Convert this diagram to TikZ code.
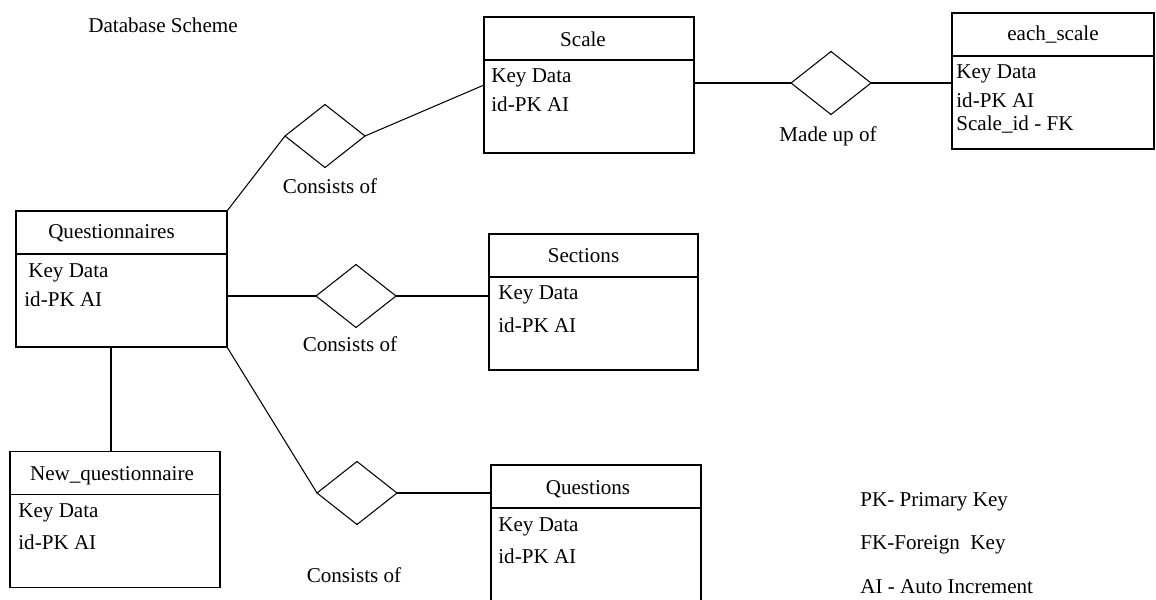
\documentclass[tikz,border=0pt]{standalone}
\usepackage{fontspec}
\setmainfont{Liberation Serif}
\usetikzlibrary{shapes.geometric,positioning,calc}

\begin{document}
\begin{tikzpicture}[
    x=0.02cm, y=-0.02cm,
    every node/.style={font=\fontsize{12}{14}\selectfont},
    entity/.style={draw, rectangle, line width=1.1pt, minimum height=2.72cm, inner sep=0pt, outer sep=0pt},
    relation/.style={draw, diamond, line width=0.6pt, minimum width=1.6cm, minimum height=1.26cm, inner sep=0pt, outer sep=0pt},
    link/.style={line width=0.6pt},
    field/.style={anchor=west, inner sep=0pt}
]
    \useasboundingbox (0,0) rectangle (1156,599);

    \node[anchor=west, inner sep=0pt] (heading) at (88,25) {Database Scheme};

    \node[entity, minimum width=4.2cm] (scale) at (589,85) {};
    \node[entity, minimum width=4.04cm] (each) at (1053,81) {};
    \node[entity, minimum width=4.22cm] (quest) at (121.5,279) {};
    \node[entity, minimum width=4.18cm] (sect) at (593.5,302) {};
    \node[entity, minimum width=4.2cm] (newq) at (115,519.5) {};
    \node[entity, minimum width=4.2cm, minimum height=2.9cm] (qs) at (596,537.5) {};

    \foreach \e in {scale,each,quest,sect,newq,qs}
        \draw[line width=1.1pt] ($(\e.north west)+(0,43)$) -- ($(\e.north east)+(0,43)$);

    \node (scaletitle) at ($(scale.north)+(-6,22)$) {Scale};
    \node (eachtitle) at ($(each.north)+(0,22)$) {each\_scale};
    \node (questtitle) at ($(quest.north)+(-10,22)$) {Questionnaires};
    \node (secttitle) at ($(sect.north)+(-10,22)$) {Sections};
    \node (newqtitle) at ($(newq.north)+(-3,24)$) {New\_questionnaire};
    \node (qstitle) at ($(qs.north)+(-8,24)$) {Questions};

    \node[field] (scalekey) at ($(scale.north west)+(7,61)$) {Key Data};
    \node[field] (scaleid) at ($(scale.north west)+(7,87)$) {id-PK AI};
    \node[field] (eachkey) at ($(each.north west)+(4,61)$) {Key Data};
    \node[field] (eachid) at ($(each.north west)+(4,87)$) {id-PK AI};
    \node[field] (eachfk) at ($(each.north west)+(4,112)$) {Scale\_id - FK};
    \node[field] (questkey) at ($(quest.north west)+(12,62)$) {Key Data};
    \node[field] (questid) at ($(quest.north west)+(8,88)$) {id-PK AI};
    \node[field] (sectkey) at ($(sect.north west)+(9,61)$) {Key Data};
    \node[field] (sectid) at ($(sect.north west)+(9,91)$) {id-PK AI};
    \node[field] (newqkey) at ($(newq.north west)+(8,61)$) {Key Data};
    \node[field] (newqid) at ($(newq.north west)+(8,91)$) {id-PK AI};
    \node[field] (qskey) at ($(qs.north west)+(7,62)$) {Key Data};
    \node[field] (qsid) at ($(qs.north west)+(7,91)$) {id-PK AI};

    \node[relation] (scalerel) at (325,136) {};
    \node[relation] (sectrel) at (356,296) {};
    \node[relation] (qsrel) at (357,493) {};
    \node[relation] (eachrel) at (831,83) {};

    \node (scalereltext) at (330,186) {Consists of};
    \node (sectreltext) at (350,344) {Consists of};
    \node (qsreltext) at (354,575) {Consists of};
    \node (eachreltext) at (828,136) {Made up of};

    \draw[link] (quest.north east) -- (scalerel.west);
    \draw[link] (scalerel.east) -- (scale.west);
    \draw[link] (sectrel.west -| quest.east) -- (sectrel.west);
    \draw[link] (sectrel.east) -- (sectrel.east -| sect.west);
    \draw[link] (quest.south east) -- (qsrel.west);
    \draw[link] (qsrel.east) -- (qsrel.east -| qs.west);
    \draw[link] ($(newq.north)+(-4,0)$) -- ($(newq.north |- quest.south)+(-4,0)$);
    \draw[link] (eachrel.west -| scale.east) -- (eachrel.west);
    \draw[link] (eachrel.east) -- (eachrel.east -| each.west);

    \node[field] (pk) at (860,502) {PK- Primary Key};
    \node[field] (fk) at (860,545) {FK-Foreign\ \ Key};
    \node[field] (ai) at (860,587) {AI - Auto Increment};
\end{tikzpicture}
\end{document}
